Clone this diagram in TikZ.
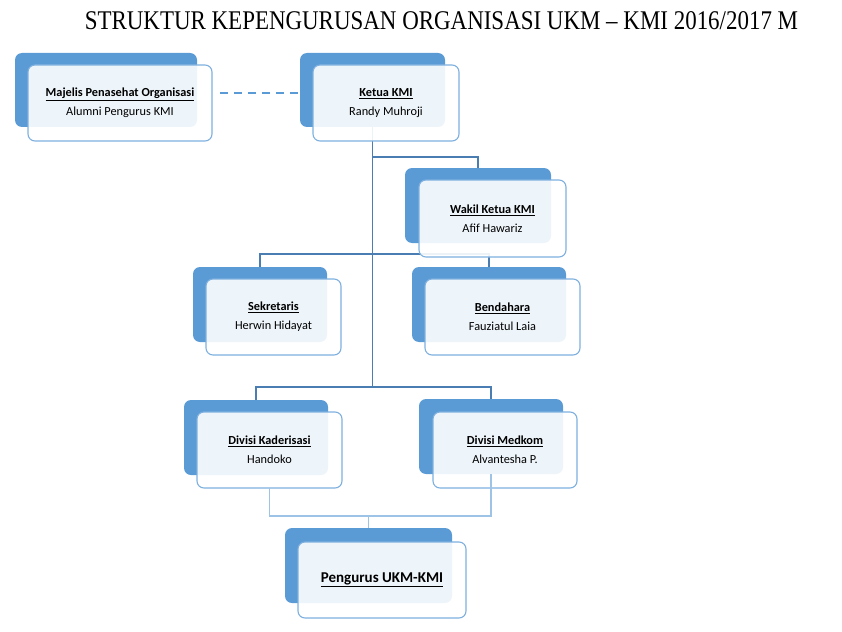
\documentclass[tikz,border=0pt]{standalone}
\usepackage{fontspec}
\setmainfont{Carlito}
\newfontfamily\titlefont{Liberation Serif}
\definecolor{bk}{HTML}{5B9BD5}
\definecolor{fr}{HTML}{7EB0DF}
\definecolor{ln}{HTML}{4A7DB2}
\definecolor{lnl}{HTML}{9DC3E6}
\begin{document}
\begin{tikzpicture}[x=1pt,y=-1pt,
  backbox/.style={fill=bk, draw=none, rounded corners=7pt, inner sep=0pt, outer sep=0pt},
  frontbox/.style={draw=fr, line width=1.1pt, fill=white, fill opacity=0.9, text opacity=1,
    rounded corners=7pt, inner sep=0pt, outer sep=0pt, align=center,
    font=\fontsize{12.3}{19}\selectfont},
  conn/.style={draw=ln, line width=1.2pt},
  connl/.style={draw=lnl, line width=1.2pt},
  dashconn/.style={draw=bk, line width=1.8pt, dash pattern=on 8pt off 6pt}]
\useasboundingbox (0,0) rectangle (842,631);
\node[font=\titlefont\fontsize{27}{29}\selectfont, xscale=0.85, text=black] (title) at (441.5,20.5) {STRUKTUR KEPENGURUSAN ORGANISASI UKM – KMI 2016/2017 M};
% back boxes
\node[backbox, minimum width=182pt, minimum height=74pt] (majb) at (106,90) {};
\node[backbox, minimum width=145pt, minimum height=74pt] (ketb) at (372.5,90) {};
\node[backbox, minimum width=146pt, minimum height=75pt] (wakb) at (478,205.5) {};
\node[backbox, minimum width=134pt, minimum height=75pt] (sekb) at (260,304.5) {};
\node[backbox, minimum width=154pt, minimum height=75pt] (benb) at (489,304.5) {};
\node[backbox, minimum width=144pt, minimum height=75pt] (kadb) at (256,437.5) {};
\node[backbox, minimum width=144pt, minimum height=75pt] (medb) at (491,436.5) {};
\node[backbox, minimum width=167pt, minimum height=75pt] (pengb) at (368.5,565.5) {};
% connectors
\coordinate (jk) at (372.5,387);
\draw[conn] (ketb.south) -- (jk);
\draw[conn] (ketb.south |- 0,157) -| (wakb.north);
\draw[conn] (sekb.north) |- (0,254 -| benb.north) -- (benb.north);
\draw[conn] (kadb.north) |- (jk) -| (medb.north);
% front boxes
\node[frontbox, minimum width=184pt, minimum height=76pt] (maj) at (120,103) {\textbf{\underline{Majelis Penasehat Organisasi}}\\Alumni Pengurus KMI};
\node[frontbox, minimum width=146pt, minimum height=76pt] (ket) at (386,103) {\textbf{\underline{Ketua KMI}}\\Randy Muhroji};
\node[frontbox, minimum width=147pt, minimum height=77pt] (wak) at (492.5,218.5) {\textbf{\underline{Wakil Ketua KMI}}\\Afif Hawariz};
\node[frontbox, minimum width=135pt, minimum height=76pt] (sek) at (273.5,317) {\textbf{\underline{Sekretaris}}\\Herwin Hidayat};
\node[frontbox, minimum width=155pt, minimum height=76pt] (ben) at (502.5,317) {\textbf{\underline{Bendahara}}\\Fauziatul Laia};
\node[frontbox, minimum width=145pt, minimum height=76pt] (kad) at (269.5,450) {\textbf{\underline{Divisi Kaderisasi}}\\Handoko};
\node[frontbox, minimum width=144pt, minimum height=76pt] (med) at (505,450) {\textbf{\underline{Divisi Medkom}}\\Alvantesha P.};
\node[frontbox, minimum width=168pt, minimum height=76pt, font=\fontsize{15}{18}\selectfont] (peng) at (382,580) {\textbf{\underline{Pengurus UKM-KMI}}};
% lower connectors
\coordinate (jb) at (0,516);
\draw[connl] (kad.south) |- (jb -| medb.south) -- (medb.south);
\draw[connl] (jb -| pengb.north) -- (pengb.north);
% dashed link
\draw[dashconn] ([xshift=8pt]maj.east |- 0,93) -- (ketb.west |- 0,93);
\end{tikzpicture}
\end{document}
